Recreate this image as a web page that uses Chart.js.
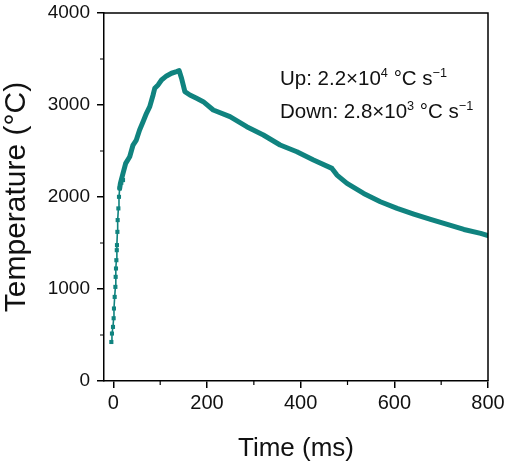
<!DOCTYPE html>
<html>
<head>
<meta charset="utf-8">
<script src="https://cdn.jsdelivr.net/npm/chart.js@4.4.0/dist/chart.umd.min.js"></script>
<style>
  html, body { margin: 0; padding: 0; background: #fff; }
  #wrap { width: 515px; height: 464px; }
</style>
</head>
<body>
<div id="wrap"><canvas id="myChart"></canvas></div>
<script>
'use strict';

// *********** DATA ***********
// steep heating part, drawn as small square markers
let riseTime = [-4.3, -3.0, -0.8, 0.6, 1.3, 2.8, 4.3, 4.9, 5.6, 6.4, 7.3, 7.7, 8.6, 9.2, 10.7, 12.0, 13.5, 17.0, 20.6];
let riseTemp = [424, 516, 588, 682, 788, 914, 1023, 1132, 1223, 1313, 1422, 1477, 1621, 1749, 1876, 2002, 2094, 2155, 2184];

// rest of the curve (dense samples -> thick line)
let mainTime = [13.5, 15, 20.6, 26.3, 34.9, 42, 49, 56, 63.4, 70.7, 77.7, 84.8, 88.4, 95.5, 102.8, 113.5, 124.2, 134.9, 140.5, 145.6, 152.7, 163.4, 177.7, 191.9, 213.3, 249, 284.8, 320.3, 356.1, 391.9, 427.4, 466.8, 477.5, 498.9, 534.5, 570.2, 605.9, 641.5, 677.3, 713, 748.6, 784.4, 800];
let mainTemp = [2094, 2148, 2257, 2366, 2438, 2565, 2619, 2728, 2818, 2910, 2982, 3109, 3182, 3218, 3272, 3316, 3345, 3362, 3373, 3291, 3145, 3109, 3073, 3036, 2946, 2873, 2764, 2674, 2565, 2492, 2402, 2311, 2238, 2148, 2039, 1948, 1876, 1814, 1756, 1702, 1647, 1604, 1580];

let xTicks = [0, 200, 400, 600, 800];
let xMinorTicks = [100, 300, 500, 700];
let yTicks = [0, 1000, 2000, 3000, 4000];
let yMinorTicks = [500, 1500, 2500, 3500];

let noteUp = [{ t: 'Up: 2.2×10' }, { t: '4', sup: true }, { t: ' °C s' }, { t: '\u22121', sup: true }];
let noteDown = [{ t: 'Down: 2.8×10' }, { t: '3', sup: true }, { t: ' °C s' }, { t: '\u22121', sup: true }];

// ********** STYLE ***********
const teal = '#10837f';
const fontFam = "'Liberation Sans', Arial, sans-serif";

function toPoints(xs, ys) {
  let pts = [];
  for (let i = 0; i < xs.length; i++) {
    pts.push({ x: xs[i], y: ys[i] });
  }
  return pts;
}

// ********** PLUGINS ***********
// box around plot + short minor ticks
const framePlugin = {
  id: 'frame',
  afterDraw(chart) {
    let ctx = chart.ctx;
    let a = chart.chartArea;
    let xs = chart.scales.x;
    let ys = chart.scales.y;
    ctx.save();
    ctx.strokeStyle = '#000';
    ctx.lineWidth = 1.5;
    ctx.beginPath();
    ctx.moveTo(a.left, a.top);
    ctx.lineTo(a.right, a.top);
    ctx.lineTo(a.right, a.bottom);
    ctx.stroke();

    ctx.lineWidth = 1.2;
    ctx.beginPath();
    for (let v of xMinorTicks) {
      let px = xs.getPixelForValue(v);
      ctx.moveTo(px, a.bottom);
      ctx.lineTo(px, a.bottom + 4);
    }
    for (let v of yMinorTicks) {
      let py = ys.getPixelForValue(v);
      ctx.moveTo(a.left, py);
      ctx.lineTo(a.left - 4, py);
    }
    ctx.stroke();
    ctx.restore();
  }
};

function drawRich(ctx, parts, x, y, size) {
  for (let p of parts) {
    let s = p.sup ? size * 0.62 : size;
    ctx.font = s + 'px ' + fontFam;
    ctx.fillText(p.t, x, p.sup ? y - size * 0.38 : y);
    x += ctx.measureText(p.t).width;
  }
}

const notePlugin = {
  id: 'note',
  afterDraw(chart) {
    let ctx = chart.ctx;
    let a = chart.chartArea;
    ctx.save();
    ctx.fillStyle = '#111';
    ctx.textBaseline = 'alphabetic';
    drawRich(ctx, noteUp, a.left + 176, 85, 20.5);
    drawRich(ctx, noteDown, a.left + 176, 118, 20.5);
    ctx.restore();
  }
};

// ********** CHART ***********
let ctx = document.getElementById('myChart').getContext('2d');

let myChartObj = {
  type: 'line',
  data: {
    datasets: [{
      label: 'rise',
      data: toPoints(riseTime, riseTemp),
      borderColor: teal,
      backgroundColor: teal,
      borderWidth: 1.6,
      pointStyle: 'rect',
      pointRadius: 2.9,
      pointBorderWidth: 0,
      tension: 0
    },
    {
      label: 'temperature',
      data: toPoints(mainTime, mainTemp),
      borderColor: teal,
      backgroundColor: teal,
      borderWidth: 5,
      pointRadius: 0,
      borderJoinStyle: 'round',
      borderCapStyle: 'round',
      tension: 0
    }]
  },
  options: {
    responsive: true,
    maintainAspectRatio: false,
    animation: false,
    layout: {
      padding: { top: 13, right: 27, left: 0, bottom: 0 }
    },
    plugins: {
      legend: { display: false },
      tooltip: { enabled: false }
    },
    scales: {
      x: {
        type: 'linear',
        min: -20,
        max: 800,
        afterBuildTicks: (axis) => { axis.ticks = xTicks.map(v => ({ value: v })); },
        afterFit: (axis) => {
          axis.height = 83;
          axis.paddingLeft = 0;
          axis.paddingRight = 0;
        },
        border: { display: true, color: '#000', width: 1.5 },
        grid: { drawOnChartArea: false, tickLength: 7, color: '#000', lineWidth: 1.5 },
        ticks: {
          color: '#111',
          padding: 3,
          maxRotation: 0,
          callback: (v) => String(v),
          font: { family: fontFam, size: 20 }
        },
        title: {
          display: true,
          text: 'Time (ms)',
          color: '#111',
          padding: { top: 0, bottom: 1 },
          font: { family: fontFam, size: 26, lineHeight: 1.1 }
        }
      },
      y: {
        type: 'linear',
        min: 0,
        max: 4000,
        afterBuildTicks: (axis) => { axis.ticks = yTicks.map(v => ({ value: v })); },
        afterFit: (axis) => {
          axis.width = 104;
          axis.paddingTop = 0;
          axis.paddingBottom = 0;
        },
        border: { display: true, color: '#000', width: 1.5 },
        grid: { drawOnChartArea: false, tickLength: 7, color: '#000', lineWidth: 1.5 },
        ticks: {
          color: '#111',
          padding: 7,
          callback: (v) => String(v),
          font: { family: fontFam, size: 19 }
        },
        title: {
          display: true,
          text: 'Temperature (°C)',
          color: '#111',
          padding: { top: 0, bottom: 0 },
          font: { family: fontFam, size: 30, lineHeight: 1.1 }
        }
      }
    }
  },
  plugins: [framePlugin, notePlugin]
};

const myChart = new Chart(ctx, myChartObj);
</script>
</body>
</html>
